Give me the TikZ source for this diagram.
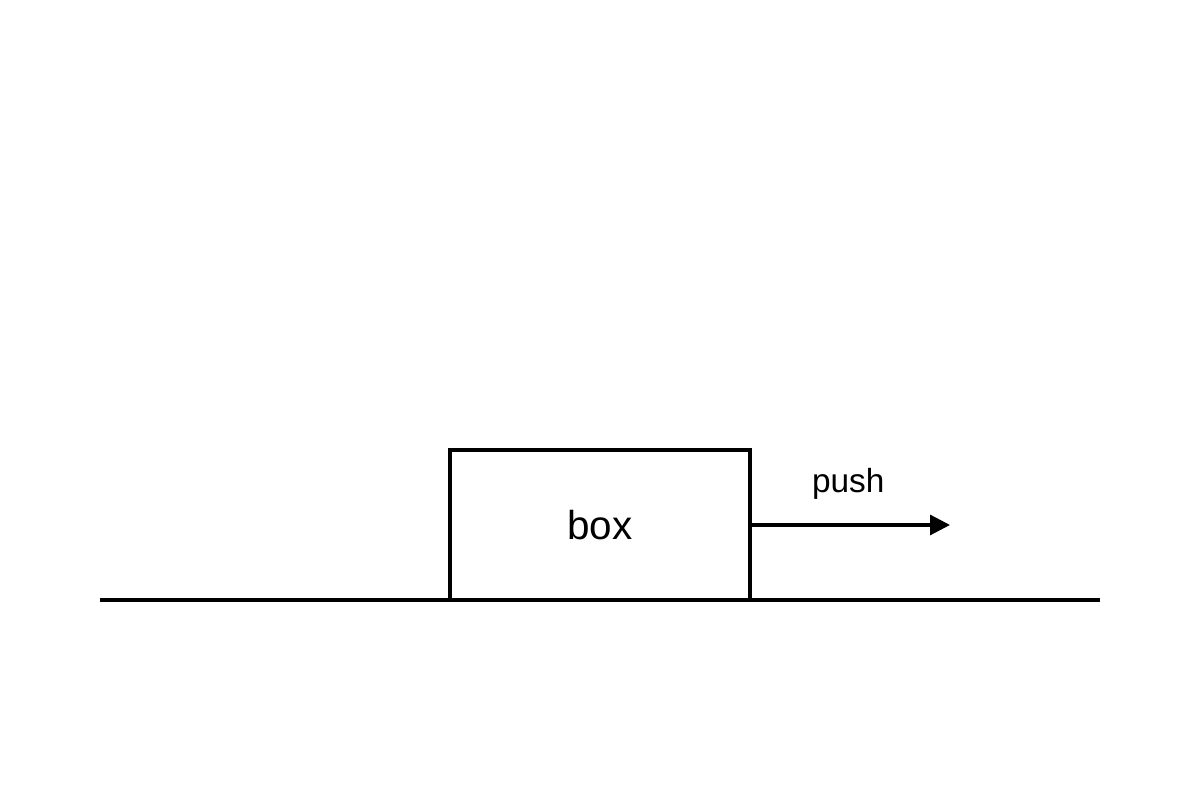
\documentclass[tikz,border=0pt]{standalone}
\usepackage{fontspec}
\setmainfont{Liberation Sans}
\usetikzlibrary{arrows.meta}
\tikzset{
    thick line/.style={line width=0.9pt},
    push arrow/.style={thick line, -{Triangle[length=0.2cm,width=0.2cm]}, shorten >=-0.05cm}
}
\begin{document}
\begin{tikzpicture}
    \useasboundingbox (0,0) rectangle (12,8);
    % ground
    \coordinate (gl) at (1,2);
    \coordinate (gr) at (11,2);
    \draw[thick line] (gl) -- (gr);
    % box
    \node[thick line, draw, minimum width=3cm, minimum height=1.5cm, inner sep=0pt, font=\fontsize{11.5}{13}\selectfont] (box) at (6,2.75) {box};
    \coordinate (tip) at (9.45,2.75);
    \draw[push arrow] (box.east) -- (tip) node[midway, above=0.12cm, font=\fontsize{9.5}{11}\selectfont] (push) {push};
\end{tikzpicture}
\end{document}
